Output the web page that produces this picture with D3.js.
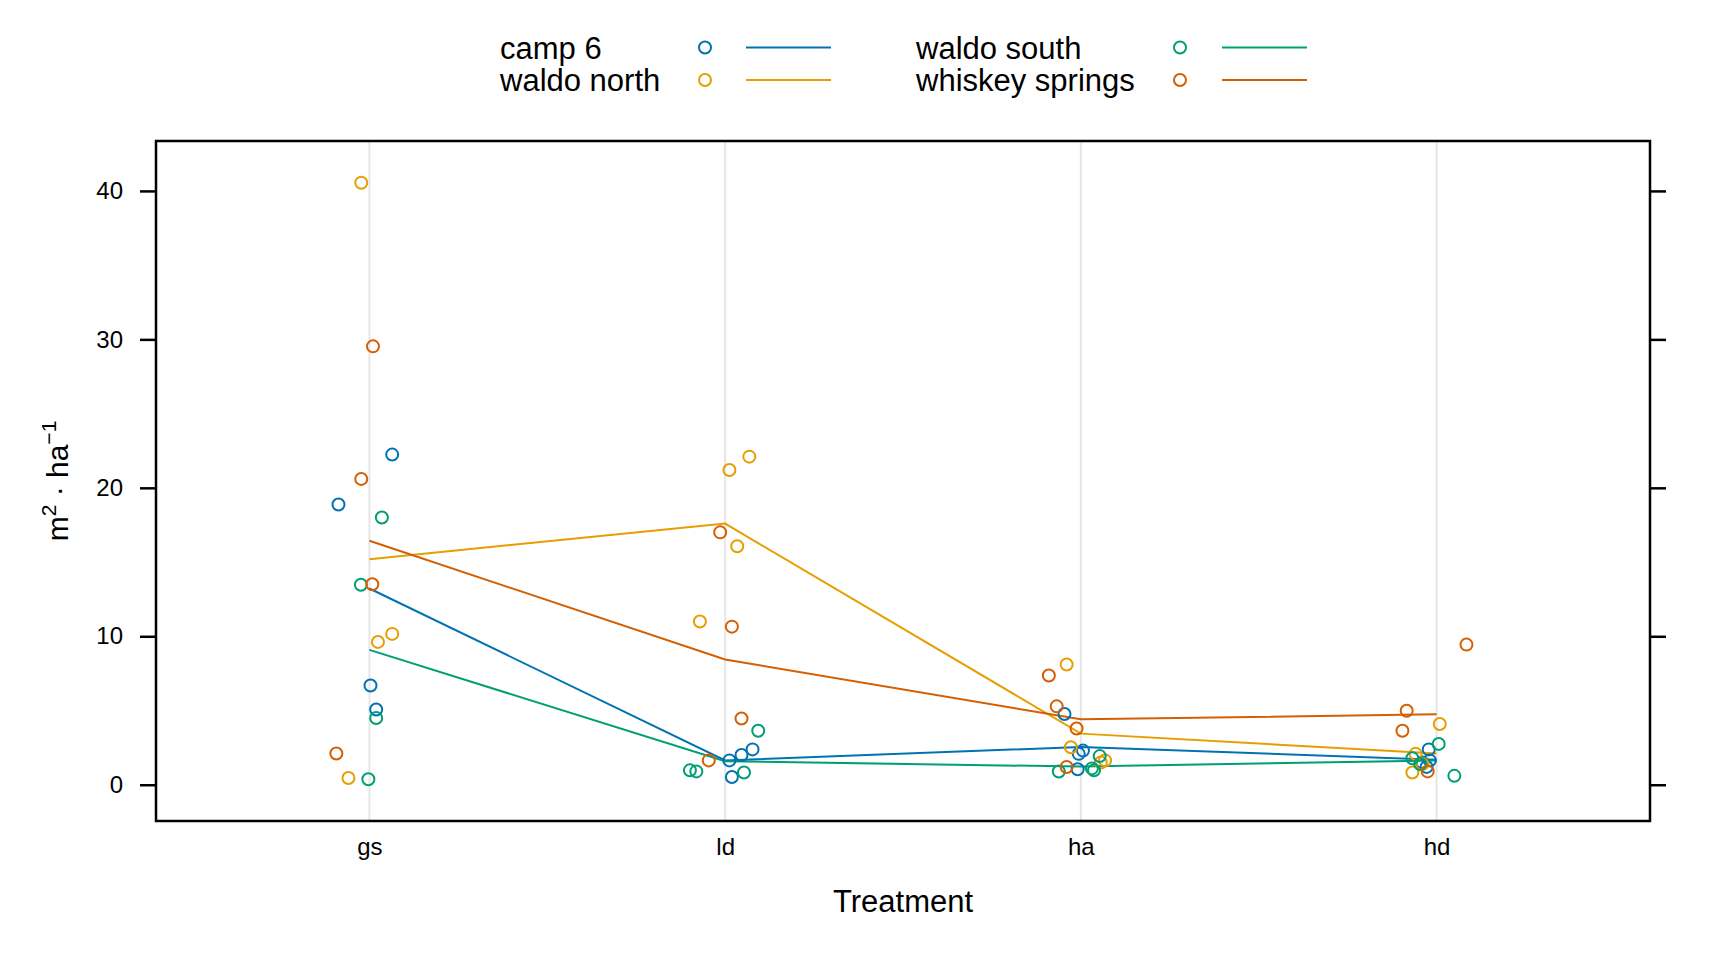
<!DOCTYPE html>
<html>
<head>
<meta charset="utf-8">
<script src="https://cdn.jsdelivr.net/npm/d3@7"></script>
<style>
  body { margin: 0; background: #fff; }
  svg { font-family: "Liberation Sans", Arial, sans-serif; }
</style>
</head>
<body>
<div id="chart"></div>
<script>
const treatments = ["gs", "ld", "ha", "hd"];
const sites = ["camp 6", "waldo north", "waldo south", "whiskey springs"];
const siteColors = ["#0072B2", "#E69F00", "#009E73", "#D55E00"];
const yTicks = [0, 10, 20, 30, 40];

// values per treatment (gs, ld, ha, hd), 4 plots each
const camp6Values = [[22.24, 18.88, 6.68, 5.07], [2.38, 2.0, 1.64, 0.52], [4.76, 2.3, 2.08, 1.04], [2.38, 1.64, 1.2, 1.5]];
const waldoNorthValues = [[40.55, 10.16, 9.62, 0.45], [22.1, 21.2, 16.06, 11.0], [8.1, 2.53, 1.64, 1.5], [4.09, 2.08, 1.4, 0.82]];
const waldoSouthValues = [[18.0, 13.47, 4.5, 0.37], [3.64, 0.97, 0.9, 0.82], [1.93, 0.89, 0.97, 1.1], [2.75, 1.78, 1.4, 0.6]];
const whiskeyValues = [[29.53, 20.6, 13.5, 2.1], [17.0, 10.65, 4.46, 1.64], [7.36, 5.28, 3.79, 1.19], [9.44, 4.98, 3.64, 0.9]];

// horizontal jitter (in treatment units)
const camp6Jitter = [[0.064, -0.087, 0.003, 0.019], [0.077, 0.046, 0.012, 0.019], [-0.046, 0.006, -0.006, -0.009], [-0.022, -0.019, -0.028, -0.04]];
const waldoNorthJitter = [[-0.023, 0.064, 0.024, -0.059], [0.068, 0.012, 0.034, -0.071], [-0.04, -0.028, 0.068, 0.056], [0.009, -0.059, -0.04, -0.068]];
const waldoSouthJitter = [[0.035, -0.024, 0.019, -0.003], [0.093, -0.099, -0.081, 0.053], [0.053, -0.062, 0.037, 0.031], [0.006, -0.068, -0.046, 0.05]];
const whiskeyJitter = [[0.01, -0.023, 0.008, -0.093], [-0.014, 0.019, 0.046, -0.046], [-0.09, -0.068, -0.012, -0.04], [0.084, -0.084, -0.096, -0.025]];

const allValues = [camp6Values, waldoNorthValues, waldoSouthValues, whiskeyValues];
const allJitter = [camp6Jitter, waldoNorthJitter, waldoSouthJitter, whiskeyJitter];

const width = 1728, height = 960;
const plotLeft = 156, plotRight = 1650, plotTop = 141, plotBottom = 821;

const svg = d3.select("#chart").append("svg")
    .attr("width", width)
    .attr("height", height);

const x = d3.scaleLinear().domain([0.4, 4.6]).range([plotLeft, plotRight]);
const flat = allValues.flat(2);
const ext = d3.extent(flat);
const pad = (ext[1] - ext[0]) * 0.07;
const y = d3.scaleLinear().domain([ext[0] - pad, ext[1] + pad]).range([plotBottom, plotTop]);

// vertical reference lines
svg.append("g").selectAll("line")
    .data(treatments)
    .enter().append("line")
    .attr("x1", (d, i) => x(i + 1))
    .attr("x2", (d, i) => x(i + 1))
    .attr("y1", plotTop)
    .attr("y2", plotBottom)
    .attr("stroke", "#e6e6e6")
    .attr("stroke-width", 2);

// axes
const yLeft = svg.append("g")
    .attr("transform", `translate(${plotLeft},0)`)
    .call(d3.axisLeft(y).tickValues(yTicks).tickSize(16).tickPadding(17));
const yRight = svg.append("g")
    .attr("transform", `translate(${plotRight},0)`)
    .call(d3.axisRight(y).tickValues(yTicks).tickSize(16).tickFormat(""));
const xAxis = svg.append("g")
    .attr("transform", `translate(0,${plotBottom})`)
    .call(d3.axisBottom(x).tickValues([1, 2, 3, 4]).tickSize(0).tickPadding(17)
        .tickFormat(d => treatments[d - 1]));

[yLeft, yRight, xAxis].forEach(g => {
    g.select(".domain").remove();
    g.selectAll(".tick line").attr("stroke", "#000").attr("stroke-width", 2.5);
    g.selectAll(".tick text").attr("fill", "#000").style("font-size", "24px")
        .style("font-family", "'Liberation Sans', Arial, sans-serif");
});

// mean lines
sites.forEach((s, si) => {
    const means = allValues[si].map((vals, ti) => [ti + 1, d3.mean(vals)]);
    svg.append("path")
        .datum(means)
        .attr("fill", "none")
        .attr("stroke", siteColors[si])
        .attr("stroke-width", 2)
        .attr("d", d3.line().x(d => x(d[0])).y(d => y(d[1])));
});

// points
sites.forEach((s, si) => {
    const pts = [];
    allValues[si].forEach((vals, ti) => {
        vals.forEach((v, k) => pts.push({t: ti + 1 + allJitter[si][ti][k], v: v}));
    });
    svg.append("g").selectAll("circle")
        .data(pts)
        .enter().append("circle")
        .attr("cx", d => x(d.t))
        .attr("cy", d => y(d.v))
        .attr("r", 6)
        .attr("fill", "none")
        .attr("stroke", siteColors[si])
        .attr("stroke-width", 2);
});

// plot border
svg.append("rect")
    .attr("x", plotLeft)
    .attr("y", plotTop)
    .attr("width", plotRight - plotLeft)
    .attr("height", plotBottom - plotTop)
    .attr("fill", "none")
    .attr("stroke", "#000")
    .attr("stroke-width", 2.5);

// axis titles
svg.append("text")
    .attr("x", (plotLeft + plotRight) / 2)
    .attr("y", 912)
    .attr("text-anchor", "middle")
    .style("font-size", "31px")
    .text("Treatment");

const ylab = svg.append("text")
    .attr("transform", `translate(68,${(plotTop + plotBottom) / 2}) rotate(-90)`)
    .attr("text-anchor", "middle")
    .style("font-size", "30px");
ylab.append("tspan").text("m");
ylab.append("tspan").attr("dy", -12).style("font-size", "21px").text("2");
ylab.append("tspan").attr("dy", 12).text(" \u00b7 ha");
ylab.append("tspan").attr("dy", -12).style("font-size", "21px").text("\u22121");

// legend
const legendCols = [
    {textX: 500, pointX: 705, lineX1: 746, lineX2: 831},
    {textX: 916, pointX: 1180, lineX1: 1222, lineX2: 1307}
];
const rowY = [47.5, 80];
const legend = svg.append("g");
sites.forEach((s, i) => {
    const col = legendCols[Math.floor(i / 2)];
    const cy = rowY[i % 2];
    legend.append("text")
        .attr("x", col.textX)
        .attr("y", cy + 11)
        .style("font-size", "31px")
        .text(s);
    legend.append("circle")
        .attr("cx", col.pointX)
        .attr("cy", cy)
        .attr("r", 6)
        .attr("fill", "none")
        .attr("stroke", siteColors[i])
        .attr("stroke-width", 2);
    legend.append("line")
        .attr("x1", col.lineX1)
        .attr("x2", col.lineX2)
        .attr("y1", cy)
        .attr("y2", cy)
        .attr("stroke", siteColors[i])
        .attr("stroke-width", 2);
});
</script>
</body>
</html>
